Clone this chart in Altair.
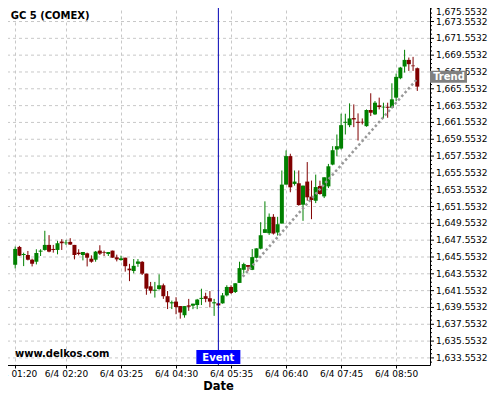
import altair as alt
import pandas as pd

# ---- candle data (5-minute bars, index 0 = 6/4 01:20) ----
opens = [
    1644.63, 1646.75, 1645.79, 1645.79, 1645.23, 1644.99, 1646.19, 1646.39, 1646.99, 1646.51,
    1646.39, 1647.39, 1647.19, 1647.35, 1646.99, 1646.07, 1645.79, 1645.99, 1645.35, 1645.23,
    1646.31, 1646.15, 1645.91, 1646.31,
    1645.51, 1645.19, 1645.47, 1644.17, 1643.89, 1644.74, 1644.98, 1643.57, 1642.07, 1641.54,
    1641.74, 1642.19, 1640.89, 1640.04, 1640.25, 1639.72, 1638.63, 1639.80, 1639.76, 1639.84,
    1640.57, 1640.89, 1640.65, 1640.04,
    1640.04, 1640.04, 1640.99, 1641.99, 1641.39, 1642.47, 1644.03, 1644.59, 1644.03, 1645.46,
    1646.54, 1648.42, 1648.38, 1650.33, 1648.46, 1649.53, 1654.16, 1657.55, 1654.24, 1654.32,
    1651.77, 1654.52, 1652.73,
    1652.24, 1653.99, 1652.76, 1653.95, 1656.54, 1658.33, 1658.45, 1661.51, 1661.23, 1662.07,
    1661.63, 1661.63, 1661.11, 1663.03, 1662.51, 1663.58, 1663.34, 1663.42, 1663.30, 1664.50,
    1666.81, 1668.20, 1668.99, 1668.32, 1668.00,
]
highs = [
    1646.79, 1646.87, 1646.07, 1646.27, 1645.35, 1646.47, 1646.47, 1648.67, 1648.15, 1646.99,
    1647.47, 1647.67, 1647.59, 1647.79, 1646.99, 1646.47, 1646.15, 1646.07, 1645.75, 1646.27,
    1646.95, 1646.31, 1646.15, 1646.31,
    1645.83, 1645.71, 1645.47, 1644.74, 1645.31, 1645.31, 1645.06, 1643.57, 1642.59, 1642.59,
    1643.49, 1642.39, 1641.50, 1640.37, 1640.77, 1639.72, 1639.72, 1640.57, 1640.00, 1640.57,
    1641.78, 1641.30, 1641.50, 1640.57,
    1640.10, 1641.27, 1642.19, 1642.19, 1642.43, 1644.99, 1644.87, 1644.59, 1646.50, 1646.58,
    1649.69, 1652.17, 1650.73, 1650.65, 1650.33, 1655.84, 1658.23, 1657.83, 1655.84, 1655.84,
    1654.04, 1656.84, 1654.64,
    1655.35, 1654.63, 1655.03, 1656.62, 1658.73, 1660.12, 1662.59, 1662.59, 1663.82, 1663.70,
    1662.63, 1662.03, 1663.10, 1665.02, 1664.10, 1664.50, 1663.90, 1663.90, 1666.21, 1667.36,
    1668.16, 1670.19, 1669.27, 1669.35, 1668.08,
]
lows = [
    1644.19, 1645.67, 1644.47, 1645.15, 1644.43, 1644.67, 1645.67, 1646.31, 1646.11, 1646.07,
    1645.87, 1646.39, 1646.99, 1646.99, 1645.27, 1645.75, 1645.15, 1644.43, 1644.87, 1644.99,
    1645.79, 1645.67, 1645.67, 1645.47,
    1645.03, 1645.11, 1643.81, 1642.68, 1643.61, 1644.38, 1643.41, 1641.06, 1641.22, 1640.73,
    1641.66, 1640.57, 1639.36, 1639.36, 1638.75, 1638.22, 1638.34, 1639.15, 1639.35, 1639.35,
    1639.84, 1640.17, 1639.56, 1638.55,
    1639.75, 1640.00, 1640.87, 1641.15, 1641.27, 1642.47, 1643.59, 1643.87, 1643.99, 1645.38,
    1646.46, 1648.42, 1648.18, 1648.22, 1648.10, 1649.53, 1654.16, 1653.25, 1654.04, 1651.65,
    1649.85, 1652.25, 1650.05,
    1651.96, 1652.96, 1652.56, 1653.75, 1656.46, 1657.53, 1658.33, 1660.12, 1660.99, 1660.99,
    1659.40, 1661.31, 1661.04, 1662.31, 1662.43, 1663.10, 1662.03, 1662.11, 1663.23, 1664.10,
    1666.69, 1667.48, 1667.68, 1667.68, 1665.30,
]
closes = [
    1646.51, 1645.71, 1645.91, 1645.23, 1644.75, 1646.03, 1646.31, 1646.99, 1646.19, 1646.39,
    1647.19, 1647.19, 1647.27, 1647.03, 1645.79, 1645.91, 1646.15, 1645.47, 1644.99, 1646.19,
    1645.95, 1646.07, 1646.15, 1645.47,
    1645.27, 1645.39, 1644.46, 1643.97, 1644.50, 1645.02, 1643.57, 1641.79, 1641.54, 1641.66,
    1642.19, 1640.89, 1640.17, 1640.17, 1639.60, 1638.95, 1639.72, 1639.64, 1640.00, 1640.49,
    1640.69, 1640.57, 1640.25, 1640.17,
    1639.80, 1640.99, 1641.99, 1641.27, 1642.43, 1644.23, 1644.71, 1644.39, 1645.54, 1646.58,
    1648.14, 1648.86, 1650.33, 1648.34, 1649.45, 1654.16, 1657.55, 1653.84, 1654.52, 1651.73,
    1654.04, 1652.65, 1652.33,
    1653.87, 1653.04, 1655.03, 1656.34, 1658.25, 1658.73, 1661.23, 1661.63, 1662.03, 1661.91,
    1661.51, 1661.55, 1663.03, 1662.71, 1663.90, 1663.38, 1663.42, 1663.30, 1664.30, 1666.97,
    1668.08, 1668.99, 1668.48, 1668.24, 1665.81,
]

# x-axis tick labels (bar index -> label)
tick_index = [0, 12, 25, 38, 51, 64, 77, 90]
tick_labels = ["6/4 01:20", "6/4 02:20", "6/4 03:25", "6/4 04:30",
               "6/4 05:35", "6/4 06:40", "6/4 07:45", "6/4 08:50"]

# y-axis labelled prices (the top one is drawn separately so it stays inside the page)
y_ticks = [1633.5532 + 2 * k for k in range(21)]
y_labels = [f"{v:,.4f}" for v in y_ticks]
y_top_tick = 1675.5532
y_top_label = "1,675.5532"

# trend line end points (bar index, price)
trend_index = [53.75, 94.74]
trend_price = [1643.21, 1666.60]

event_index = 48
title_text = "GC 5 (COMEX)"
watermark = "www.delkos.com"

# ---- frames ----
df = pd.DataFrame({"i": list(range(len(opens))), "open": opens, "high": highs,
                   "low": lows, "close": closes})
df["dir"] = ["up" if c >= o else "down" for o, c in zip(opens, closes)]
trend_df = pd.DataFrame({"i": trend_index, "p": trend_price})
one = pd.DataFrame({"a": [0]})
ylab_df = pd.DataFrame({"v": y_ticks, "t": y_labels})
ymaj_df = pd.DataFrame({"v": y_ticks + [y_top_tick]})
y_minor = [round(1633.5532 - 0.5 + 0.5 * k, 4) for k in range(86) if k % 4 != 1]
ymin_df = pd.DataFrame({"v": y_minor})

# x axis: major + minor tick positions
x_vals = []
for a, b in zip(tick_index[:-1], tick_index[1:]):
    for j in range(4):
        x_vals.append(round(a + (b - a) * j / 4, 3))
x_vals += [90, 93.25, 96.5]
maj_arr = "[" + ",".join(str(v) for v in tick_index) + "]"
lab_arr = "[" + ",".join("'" + s + "'" for s in tick_labels) + "]"
x_major_test = f"indexof({maj_arr}, datum.value) >= 0"
x_label_expr = f"indexof({maj_arr}, datum.value) >= 0 ? {lab_arr}[indexof({maj_arr}, datum.value)] : ''"

X_DOMAIN = [-0.99, 96.82]
Y_DOMAIN = [1632.71, 1675.636]
FONT = "DejaVu Sans"
GRID = "#c8c8c8"

x_enc = alt.X(
    "i:Q",
    scale=alt.Scale(domain=X_DOMAIN, nice=False, zero=False),
    axis=alt.Axis(
        title="Date", values=x_vals, labelExpr=x_label_expr,
        labelFlush=False, labelOverlap=False, labelBound=False,
        grid=True, gridDash=[3, 3], gridColor=GRID,
        gridOpacity={"condition": {"test": x_major_test, "value": 1}, "value": 0},
        tickSize=3, tickColor="#000000", domainColor="#000000",
        labelFont=FONT, labelFontSize=9, labelColor="#000000", labelPadding=1,
        titleFont=FONT, titleFontSize=11.5, titleFontWeight="bold", titleColor="#000000",
        titleBaseline="alphabetic", titleY=24.3,
    ),
)
y_scale = alt.Scale(domain=Y_DOMAIN, nice=False, zero=False)
y_axis = alt.Axis(orient="right", title=None, labels=False, ticks=False, grid=False,
                  domainColor="#000000")
color = alt.Color("dir:N", scale=alt.Scale(domain=["up", "down"], range=["#008000", "#800000"]),
                  legend=None)

# horizontal grid
hgrid = alt.Chart(ymaj_df).mark_rule(color=GRID, strokeDash=[3, 3], strokeWidth=1).encode(
    y=alt.Y("v:Q", scale=y_scale, axis=y_axis))
# y ticks
ymaj_ticks = alt.Chart(ymaj_df).mark_rule(color="#000000").encode(
    y="v:Q", x=alt.value(424), x2=alt.value(428))
ymin_ticks = alt.Chart(ymin_df).mark_rule(color="#000000").encode(
    y="v:Q", x=alt.value(424), x2=alt.value(426))
# y labels
ylabels = alt.Chart(ylab_df).mark_text(
    align="left", baseline="middle", font=FONT, fontSize=9, color="#000000").encode(
    y="v:Q", x=alt.value(430), text="t:N")
ytop_label = alt.Chart(one).mark_text(
    text=y_top_label, align="left", baseline="top", font=FONT, fontSize=9,
    color="#000000").encode(x=alt.value(430), y=alt.value(4))

base = alt.Chart(df)
wicks = base.mark_rule(strokeWidth=1).encode(
    x=x_enc, y="low:Q", y2="high:Q", color=color)
bodies = base.mark_bar(size=4).encode(
    x="i:Q", y="open:Q", y2="close:Q", color=color)

trend = alt.Chart(trend_df).mark_line(color="#999999", strokeWidth=2.5, strokeDash=[2.5, 2.5]).encode(
    x="i:Q", y="p:Q")

event_rule = alt.Chart(one).mark_rule(color="#0000b4", strokeWidth=1).encode(
    x=alt.datum(event_index))
event_box = alt.Chart(one).mark_point(
    shape="M-1,-0.318H1V0.318H-1Z", size=1936, filled=True, fill="#0000ff",
    strokeWidth=0, opacity=1).encode(x=alt.datum(event_index), y=alt.value(353))
event_text = alt.Chart(one).mark_text(
    text="Event", color="#ffffff", font=FONT, fontSize=10, fontWeight="bold",
    baseline="middle", align="center").encode(x=alt.datum(event_index), y=alt.value(353.5))

trend_box = alt.Chart(one).mark_point(
    shape="M-1,-0.324H1V0.324H-1Z", size=1369, filled=True, fill="#808080",
    strokeWidth=0, opacity=1).encode(x=alt.value(442.5), y=alt.value(72.7))
trend_text = alt.Chart(one).mark_text(
    text="Trend", color="#ffffff", font=FONT, fontSize=10, fontWeight="bold",
    baseline="middle", align="center").encode(x=alt.value(443), y=alt.value(73.2))

title_mark = alt.Chart(one).mark_text(
    text=title_text, color="#000000", font=FONT, fontSize=10, fontWeight="bold",
    align="left", baseline="alphabetic").encode(x=alt.value(4.7), y=alt.value(15))
wm_mark = alt.Chart(one).mark_text(
    text=watermark, color="#000000", font=FONT, fontSize=10, fontWeight="bold",
    align="left", baseline="alphabetic").encode(x=alt.value(9), y=alt.value(353))

chart = alt.layer(
    hgrid, ymaj_ticks, ymin_ticks, ylabels, ytop_label,
    wicks, bodies, trend, event_rule, event_box, event_text,
    trend_box, trend_text, title_mark, wm_mark
).properties(
    width=424, height=361,
    autosize=alt.AutoSizeParams(type="none"),
    padding={"left": -2, "top": -4, "right": 62, "bottom": 27},
    background="#ffffff",
).configure_view(stroke=None)

chart.save("out.html", embed_options={"renderer": "svg", "actions": False})
